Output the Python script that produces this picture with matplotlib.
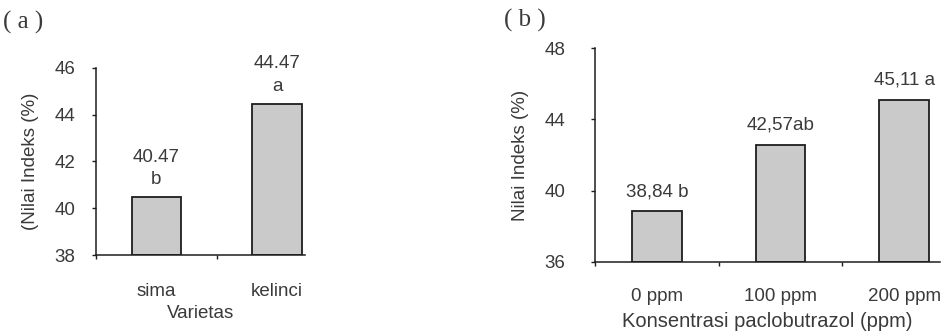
import matplotlib
matplotlib.use("Agg")
import matplotlib.pyplot as plt

# Panel (a): varieties
varieties = ["sima", "kelinci"]
variety_values = [40.47, 44.47]
variety_labels = ["40.47\nb", "44.47\na"]

# Panel (b): paclobutrazol concentration
concentrations = ["0 ppm", "100 ppm", "200 ppm"]
conc_values = [38.84, 42.57, 45.11]
conc_labels = ["38,84 b", "42,57ab", "45,11 a"]

TEXT = "#3a3a3a"
LINE = "#1e1e1e"
FILL = "#cacaca"

plt.rcParams["font.family"] = ["Liberation Sans", "DejaVu Sans"]

fig = plt.figure(figsize=(9.46, 3.35), dpi=100)
W, H = 946, 335


def axes_px(left, right, bottom, top):
    return fig.add_axes([left / W, 1 - bottom / H, (right - left) / W, (bottom - top) / H])


def style(ax, fs, ypad, xpad):
    for s in ("top", "right"):
        ax.spines[s].set_visible(False)
    for s in ("left", "bottom"):
        ax.spines[s].set_color(LINE)
        ax.spines[s].set_linewidth(1.1)
    ax.tick_params(axis="y", direction="out", length=3, width=1, color=LINE,
                   labelsize=fs, labelcolor=TEXT, pad=ypad)
    ax.tick_params(axis="x", which="minor", direction="out", length=3, width=1, color=LINE)
    ax.tick_params(axis="x", which="major", length=0, labelsize=fs, labelcolor=TEXT, pad=xpad)


# ---- (a)
axa = axes_px(96, 305, 255, 67.7)
xa = list(range(len(varieties)))
axa.bar(xa, [v - 38 for v in variety_values], bottom=38, width=0.41,
        color=FILL, edgecolor=LINE, linewidth=1.3)
axa.set_xlim(-0.5, 1.23)
axa.set_ylim(38, 46)
axa.set_yticks([38, 40, 42, 44, 46])
axa.set_xticks(xa)
axa.set_xticklabels(varieties)
axa.set_xticks([-0.5, 0.5], minor=True)
style(axa, 13.5, 12, 20.5)
axa.set_xlabel("Varietas", fontsize=13.5, color=TEXT, labelpad=3)
axa.set_ylabel("(Nilai Indeks (%)", fontsize=13.5, color=TEXT, labelpad=11)
for x, v, lab in zip(xa, variety_values, variety_labels):
    axa.annotate(lab, (x, v), xytext=(0, 9), textcoords="offset pixels",
                 ha="center", va="bottom", fontsize=13.5, color=TEXT, linespacing=1.4)

# ---- (b)
axb = axes_px(595, 940, 261.7, 48.3)
xb = list(range(len(concentrations)))
axb.bar(xb, [v - 36 for v in conc_values], bottom=36, width=0.40,
        color=FILL, edgecolor=LINE, linewidth=1.3)
axb.set_xlim(-0.5, 2.29)
axb.set_ylim(36, 48)
axb.set_yticks([36, 40, 44, 48])
axb.set_xticks(xb)
axb.set_xticklabels(concentrations)
axb.set_xticks([-0.5, 0.5, 1.5], minor=True)
style(axb, 13.5, 18.5, 19)
axb.set_xlabel("Konsentrasi paclobutrazol (ppm)", fontsize=14.5, color=TEXT, labelpad=5)
axb.set_ylabel("Nilai Indeks (%)", fontsize=13.5, color=TEXT, labelpad=11)
for x, v, lab in zip(xb, conc_values, conc_labels):
    axb.annotate(lab, (x, v), xytext=(0, 11), textcoords="offset pixels",
                 ha="center", va="bottom", fontsize=13.5, color=TEXT)

# Panel letters
fig.text(3 / W, 1 - 22 / H, "( a )", fontsize=18, color=TEXT, va="center", ha="left",
         family=["Liberation Serif", "DejaVu Serif"])
fig.text(504 / W, 1 - 20 / H, "( b )", fontsize=18, color=TEXT, va="center", ha="left",
         family=["Liberation Serif", "DejaVu Serif"])

fig.savefig("out.png", dpi=100, facecolor="white")
